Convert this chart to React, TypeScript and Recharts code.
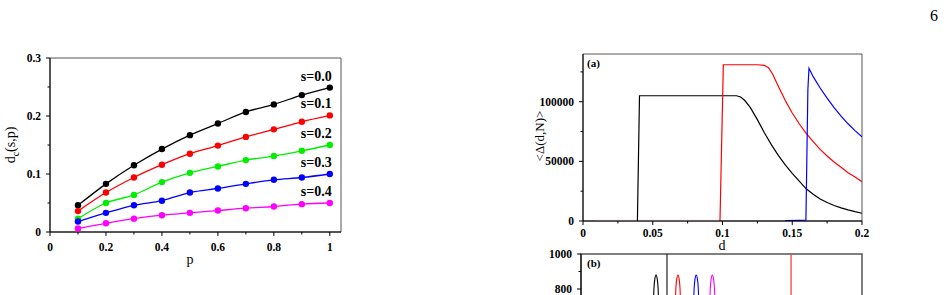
import React from 'react'
import {
  LineChart,
  Line,
  XAxis,
  YAxis,
  ReferenceArea,
  ReferenceLine,
  LabelList,
} from 'recharts'

const SERIF = "'Liberation Serif', 'Times New Roman', serif"

// ---------------------------------------------------------------------------
// Left panel: d_c(s,p) against p, one series per s
// ---------------------------------------------------------------------------

const pValues = [0.1, 0.2, 0.3, 0.4, 0.5, 0.6, 0.7, 0.8, 0.9, 1.0]
const dcS00 = [0.046, 0.083, 0.115, 0.143, 0.167, 0.187, 0.207, 0.22, 0.236, 0.249]
const dcS01 = [0.036, 0.068, 0.094, 0.116, 0.135, 0.149, 0.164, 0.177, 0.19, 0.201]
const dcS02 = [0.023, 0.05, 0.064, 0.086, 0.102, 0.113, 0.124, 0.131, 0.14, 0.15]
const dcS03 = [0.018, 0.033, 0.046, 0.054, 0.068, 0.075, 0.083, 0.09, 0.094, 0.1]
const dcS04 = [0.006, 0.015, 0.023, 0.029, 0.033, 0.037, 0.041, 0.044, 0.048, 0.05]
const sKeys = ['s0', 's1', 's2', 's3', 's4']
const sLabels = ['s=0.0', 's=0.1', 's=0.2', 's=0.3', 's=0.4']
const sColors = ['#000000', '#ff0000', '#00ee00', '#0000ff', '#ff00ff']

const pTicks = [0, 0.1, 0.2, 0.3, 0.4, 0.5, 0.6, 0.7, 0.8, 0.9, 1]
const pMajor = [0, 0.2, 0.4, 0.6, 0.8, 1]
const dcTicks = [0, 0.05, 0.1, 0.15, 0.2, 0.25, 0.3]
const dcMajor = [0, 0.1, 0.2, 0.3]

// ---------------------------------------------------------------------------
// Panel (a): <Delta(d,N)> against d
// ---------------------------------------------------------------------------

const blackD = [0.039, 0.0405, 0.06, 0.08, 0.1, 0.11, 0.113, 0.116, 0.12, 0.125, 0.13, 0.135, 0.14, 0.145, 0.15, 0.155, 0.16, 0.165, 0.17, 0.175, 0.18, 0.185, 0.19, 0.195, 0.2]
const blackV = [0, 105000, 105000, 105000, 105000, 105000, 104000, 101000, 95000, 85000, 74000, 64000, 55000, 47000, 40000, 33500, 27000, 22500, 18500, 15500, 13000, 11000, 9300, 7800, 6500]
const redD = [0.0982, 0.1006, 0.11, 0.125, 0.13, 0.133, 0.136, 0.14, 0.145, 0.15, 0.155, 0.16, 0.165, 0.17, 0.175, 0.18, 0.185, 0.19, 0.195, 0.2]
const redV = [0, 131000, 131000, 131000, 130500, 128500, 123000, 113000, 101000, 90500, 81500, 73500, 66500, 60000, 54500, 49500, 45000, 40500, 36800, 33000]
const blueD = [0.145, 0.155, 0.1598, 0.1612, 0.162, 0.165, 0.17, 0.175, 0.18, 0.185, 0.19, 0.195, 0.2]
const blueV = [300, 600, 800, 110000, 128000, 121000, 111500, 103000, 95000, 88000, 81500, 75800, 70500]
// faint pink trace lying just on the baseline before the red jump
const pinkD = [0.01, 0.098]
const pinkV = [600, 600]

const dTicks = [0, 0.025, 0.05, 0.075, 0.1, 0.125, 0.15, 0.175, 0.2]
const dMajor = [0, 0.05, 0.1, 0.15, 0.2]
const deltaTicks = [0, 25000, 50000, 75000, 100000, 125000]
const deltaMajor = [0, 50000, 100000]

// ---------------------------------------------------------------------------
// Panel (b): only its top edge is on the page
// ---------------------------------------------------------------------------

const peakBlackD = [0.0494, 0.0509, 0.0519, 0.0526, 0.0534, 0.0542, 0.0549, 0.0559, 0.0574]
const peakBlackV = [0, 500, 800, 860, 880, 860, 800, 500, 0]
const peakRedD = [0.065, 0.0665, 0.0675, 0.0682, 0.069, 0.0698, 0.0705, 0.0715, 0.073]
const peakRedV = [0, 500, 800, 860, 880, 860, 800, 500, 0]
const peakBlueD = [0.078, 0.0795, 0.0805, 0.0812, 0.082, 0.0828, 0.0835, 0.0845, 0.086]
const peakBlueV = [0, 500, 800, 860, 880, 860, 800, 500, 0]
const peakMagD = [0.0895, 0.091, 0.092, 0.0927, 0.0935, 0.0943, 0.095, 0.096, 0.0975]
const peakMagV = [0, 500, 800, 860, 880, 860, 800, 500, 0]
const markBlack = 0.0612
const markRed = 0.1495
// only the ticks that fall on the page
const bTicks = [800, 900, 1000]
const bMajor = [800, 1000]

const zip = (xs: number[], ys: number[]) => xs.map((d, i) => ({ d, v: ys[i] }))

const isIn = (list: number[], v: number) => list.some((m) => Math.abs(m - v) < 1e-9)

// Tick with its own mark: long for labelled ticks, short for the rest
function XTick(props: any) {
  const { x, y, payload, majors, fmt, dy } = props
  const major = isIn(majors, payload.value)
  return (
    <g>
      <line x1={x} x2={x} y1={y} y2={y + (major ? 4 : 2.5)} stroke="#000" />
      {major && (
        <text
          x={x}
          y={y + dy}
          textAnchor="middle"
          fontFamily={SERIF}
          fontWeight="bold"
          fontSize={11.5}
          fill="#000"
        >
          {fmt(payload.value)}
        </text>
      )}
    </g>
  )
}

function YTick(props: any) {
  const { x, y, payload, majors, fmt } = props
  const major = isIn(majors, payload.value)
  return (
    <g>
      <line x1={x - (major ? 4 : 2.5)} x2={x} y1={y} y2={y} stroke="#000" />
      {major && (
        <text
          x={x - 9}
          y={y + 4}
          textAnchor="end"
          fontFamily={SERIF}
          fontWeight="bold"
          fontSize={11.5}
          fill="#000"
        >
          {fmt(payload.value)}
        </text>
      )}
    </g>
  )
}

const fmtOne = (v: number) => (v === 0 || v === 1 ? String(v) : v.toFixed(1))

export default function App() {
  const leftData = pValues.map((p, i) => ({
    p,
    s0: dcS00[i],
    s1: dcS01[i],
    s2: dcS02[i],
    s3: dcS03[i],
    s4: dcS04[i],
  }))
  const last = pValues.length - 1

  return (
    <div
      style={{
        position: 'absolute',
        left: 0,
        top: 0,
        width: 952,
        height: 295,
        overflow: 'hidden',
        background: '#fff',
      }}
    >
      {/* left panel */}
      <div style={{ position: 'absolute', left: 0, top: 0 }}>
        <LineChart
          width={360}
          height={280}
          data={leftData}
          margin={{ top: 58, right: 19, bottom: 18, left: 0 }}
        >
          <ReferenceArea x1={0} x2={1.04} y1={0} y2={0.3} fill="none" stroke="#555" strokeWidth={1} />
          <XAxis
            dataKey="p"
            type="number"
            domain={[0, 1.04]}
            ticks={pTicks}
            interval={0}
            height={30}
            tickSize={0}
            tickMargin={0}
            tickLine={false}
            axisLine={{ stroke: '#000' }}
            tick={<XTick majors={pMajor} fmt={fmtOne} dy={19} />}
          />
          <YAxis
            type="number"
            domain={[0, 0.3]}
            ticks={dcTicks}
            interval={0}
            width={50}
            tickSize={0}
            tickMargin={0}
            tickLine={false}
            axisLine={{ stroke: '#000' }}
            tick={<YTick majors={dcMajor} fmt={fmtOne} />}
          />
          {sKeys.map((k, i) => (
            <Line
              key={k}
              dataKey={k}
              type="monotone"
              stroke={sColors[i]}
              strokeWidth={1.3}
              dot={{ r: 3.2, fill: sColors[i], stroke: 'none' }}
              isAnimationActive={false}
            >
              <LabelList
                dataKey={k}
                content={(lp: any) =>
                  lp.index === last ? (
                    <text
                      x={lp.x + 2}
                      y={lp.y - 7}
                      textAnchor="end"
                      fontFamily={SERIF}
                      fontWeight="bold"
                      fontSize={14}
                      fill="#000"
                    >
                      {sLabels[i]}
                    </text>
                  ) : null
                }
              />
            </Line>
          ))}
        </LineChart>
      </div>

      {/* panel (a) */}
      <div style={{ position: 'absolute', left: 520, top: 0 }}>
        <LineChart width={360} height={240} margin={{ top: 54, right: 18, bottom: 0, left: 0 }}>
          <ReferenceArea x1={0} x2={0.2} y1={0} y2={140000} fill="none" stroke="#555" strokeWidth={1} />
          <XAxis
            dataKey="d"
            type="number"
            domain={[0, 0.2]}
            ticks={dTicks}
            interval={0}
            height={19}
            tickSize={0}
            tickMargin={0}
            tickLine={false}
            allowDataOverflow
            axisLine={{ stroke: '#000' }}
            tick={<XTick majors={dMajor} fmt={(v: number) => String(v)} dy={16} />}
          />
          <YAxis
            type="number"
            domain={[0, 140000]}
            ticks={deltaTicks}
            interval={0}
            width={63}
            tickSize={0}
            tickMargin={0}
            tickLine={false}
            allowDataOverflow
            axisLine={{ stroke: '#000' }}
            tick={<YTick majors={deltaMajor} fmt={(v: number) => String(v)} />}
          />
          <Line data={zip(pinkD, pinkV)} dataKey="v" type="linear" stroke="#f4c8d8" strokeWidth={1} dot={false} isAnimationActive={false} />
          <Line data={zip(blackD, blackV)} dataKey="v" type="linear" stroke="#000" strokeWidth={1.2} dot={false} isAnimationActive={false} />
          <Line data={zip(redD, redV)} dataKey="v" type="linear" stroke="#ff0000" strokeWidth={1.2} dot={false} isAnimationActive={false} />
          <Line data={zip(blueD, blueV)} dataKey="v" type="linear" stroke="#0000ff" strokeWidth={1.2} dot={false} isAnimationActive={false} />
        </LineChart>
      </div>

      {/* panel (b) */}
      <div style={{ position: 'absolute', left: 520, top: 240 }}>
        <LineChart width={360} height={200} margin={{ top: 14, right: 18, bottom: 11, left: 0 }}>
          <ReferenceArea x1={0} x2={0.2} y1={0} y2={1000} fill="none" stroke="#555" strokeWidth={1.5} />
          <XAxis dataKey="d" type="number" domain={[0, 0.2]} hide />
          <YAxis
            type="number"
            domain={[0, 1000]}
            ticks={bTicks}
            interval={0}
            width={61}
            tickSize={0}
            tickMargin={0}
            tickLine={false}
            axisLine={{ stroke: '#000' }}
            tick={<YTick majors={bMajor} fmt={(v: number) => String(v)} />}
          />
          <ReferenceLine x={markBlack} stroke="#222" strokeWidth={1.2} />
          <ReferenceLine x={markRed} stroke="#ff3030" strokeWidth={1.2} />
          <Line data={zip(peakBlackD, peakBlackV)} dataKey="v" type="monotone" stroke="#000" strokeWidth={1.1} dot={false} isAnimationActive={false} />
          <Line data={zip(peakRedD, peakRedV)} dataKey="v" type="monotone" stroke="#ff0000" strokeWidth={1.1} dot={false} isAnimationActive={false} />
          <Line data={zip(peakBlueD, peakBlueV)} dataKey="v" type="monotone" stroke="#0000ff" strokeWidth={1.1} dot={false} isAnimationActive={false} />
          <Line data={zip(peakMagD, peakMagV)} dataKey="v" type="monotone" stroke="#ff00ff" strokeWidth={1.1} dot={false} isAnimationActive={false} />
        </LineChart>
      </div>

      {/* titles, panel letters and page number */}
      <svg
        width={952}
        height={295}
        style={{ position: 'absolute', left: 0, top: 0, pointerEvents: 'none' }}
        fontFamily={SERIF}
      >
        <text x={934} y={21} textAnchor="middle" fontSize={16} fill="#000">
          6
        </text>
        <text transform="translate(15,145) rotate(-90)" textAnchor="middle" fontSize={14} fill="#000">
          d<tspan dy={4} fontSize={10}>c</tspan>
          <tspan dy={-4}>(s,p)</tspan>
        </text>
        <text x={190} y={264} textAnchor="middle" fontSize={14} fill="#000">
          p
        </text>
        <text transform="translate(544,136) rotate(-90)" textAnchor="middle" fontSize={13} fill="#000">
          {'<Δ(d,N)>'}
        </text>
        <text x={722} y={250} textAnchor="middle" fontSize={14} fill="#000">
          d
        </text>
        <text x={587} y={67} fontSize={11} fontWeight="bold" fill="#000">
          (a)
        </text>
        <text x={587} y={267} fontSize={11} fontWeight="bold" fill="#000">
          (b)
        </text>
      </svg>
    </div>
  )
}
